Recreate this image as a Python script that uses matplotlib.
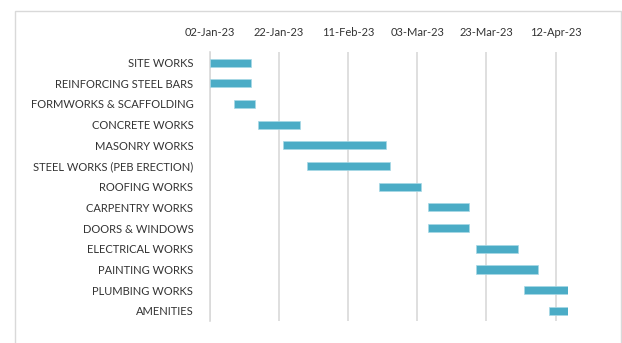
import datetime as dt
import matplotlib
matplotlib.use("Agg")
import matplotlib.pyplot as plt
import matplotlib.dates as mdates
from matplotlib.patches import Rectangle

tasks = ["SITE WORKS", "REINFORCING STEEL BARS", "FORMWORKS & SCAFFOLDING",
         "CONCRETE WORKS", "MASONRY WORKS", "STEEL WORKS (PEB ERECTION)",
         "ROOFING WORKS", "CARPENTRY WORKS", "DOORS & WINDOWS",
         "ELECTRICAL WORKS", "PAINTING WORKS", "PLUMBING WORKS", "AMENITIES"]
start_dates = ["2023-01-02", "2023-01-02", "2023-01-09", "2023-01-16",
               "2023-01-23", "2023-01-30", "2023-02-20", "2023-03-06",
               "2023-03-06", "2023-03-20", "2023-03-20", "2023-04-03",
               "2023-04-10"]
durations = [12, 12, 6, 12, 30, 24, 12, 12, 12, 12, 18, 14, 7]
tick_dates = ["2023-01-02", "2023-01-22", "2023-02-11",
              "2023-03-03", "2023-03-23", "2023-04-12"]

starts = [mdates.date2num(dt.datetime.fromisoformat(d)) for d in start_dates]
ticks = [mdates.date2num(dt.datetime.fromisoformat(d)) for d in tick_dates]

plt.rcParams['font.family'] = ['Lato', 'DejaVu Sans']
text_col = "#333333"
grid_col = "#d9d9d9"

fig = plt.figure(figsize=(6.22, 3.43), dpi=100)
ax = fig.add_axes([0.3376, 0.064, 0.5755, 0.7835])

ax.barh(range(len(tasks)), durations, left=starts, height=0.4,
        color="#4BACC6", edgecolor="#a8d8e6", linewidth=0.5, zorder=3)

ax.set_ylim(len(tasks) - 0.5, -0.5)
ax.set_xlim(ticks[0], ticks[0] + 103.6)
ax.set_yticks(range(len(tasks)))
ax.set_yticklabels(tasks, fontsize=8, color=text_col)
ax.set_xticks(ticks)
ax.xaxis.set_major_formatter(mdates.DateFormatter("%d-%b-%y"))
ax.xaxis.tick_top()
ax.tick_params(axis="x", labelsize=8, colors=text_col, length=0, pad=10)
ax.tick_params(axis="y", length=0, pad=12)
ax.grid(axis="x", color=grid_col, linewidth=1.2, zorder=0)
for s in ["top", "right", "bottom"]:
    ax.spines[s].set_visible(False)
ax.spines["left"].set_color(grid_col)
ax.spines["left"].set_linewidth(1.2)

# outer chart border
fig.patches.append(Rectangle((14.5 / 622, -0.05), 606 / 622, 1 - 10.5 / 343 + 0.05,
                             transform=fig.transFigure, fill=False,
                             edgecolor=grid_col, linewidth=1))

fig.savefig("out.png", dpi=100)
